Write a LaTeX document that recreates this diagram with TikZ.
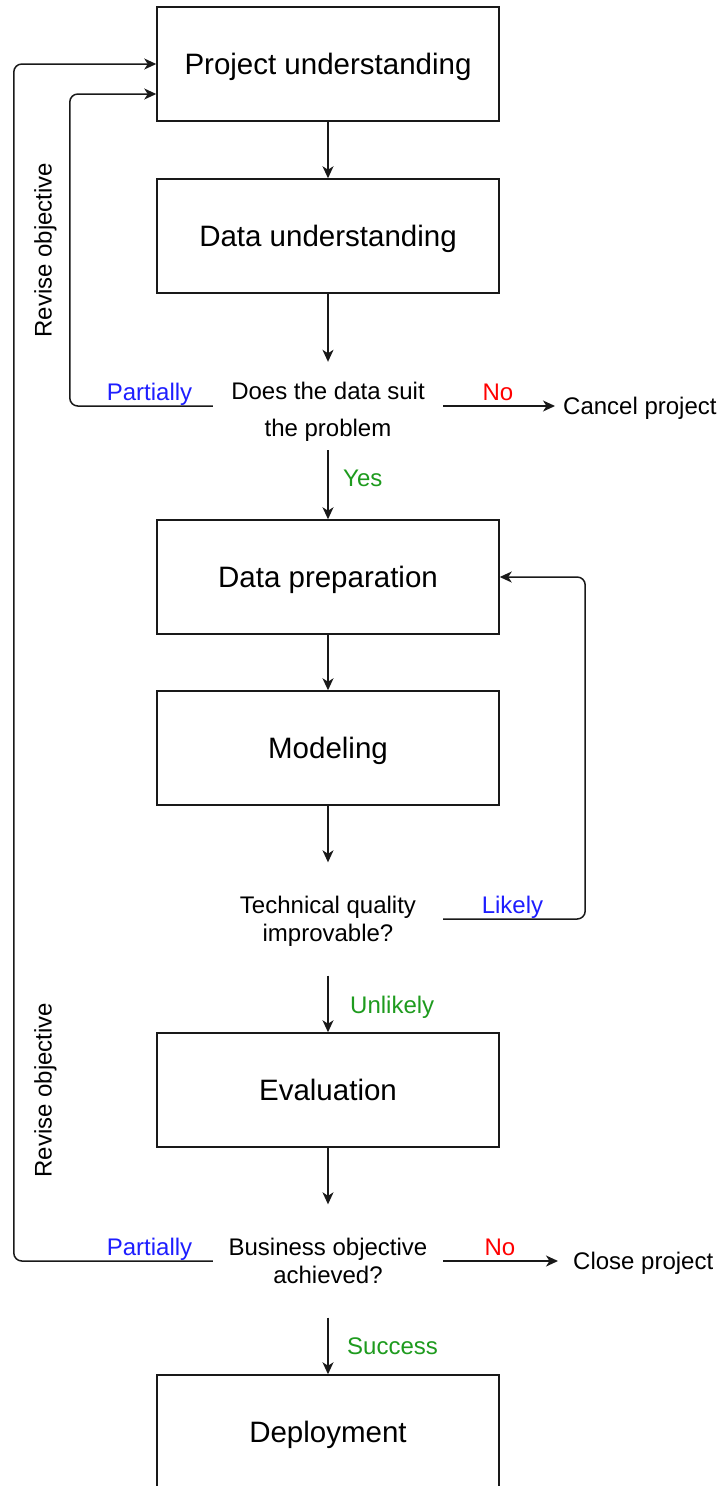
\documentclass[tikz,border=0pt]{standalone}
\usepackage{fontspec}
\setmainfont{Liberation Sans}
\usetikzlibrary{arrows.meta}
\definecolor{lblue}{RGB}{30,30,255}
\definecolor{lred}{RGB}{255,0,0}
\definecolor{lgreen}{RGB}{30,155,30}
\begin{document}
\begin{tikzpicture}[x=1pt,y=-1pt,
  box/.style={draw=black!90, line width=1.5pt, minimum width=342pt, minimum height=114pt, inner sep=0pt, text height=21pt, text depth=0pt, font=\fontsize{29.5}{34}\selectfont},
  dec/.style={minimum width=230pt, inner sep=0pt, align=center, text height=44pt, text depth=0pt, minimum height=113pt, font=\fontsize{24}{28}\selectfont},
  outtext/.style={inner ysep=0pt, text height=17pt, text depth=0pt, font=\fontsize{24}{28}\selectfont},
  lbl/.style={inner sep=0pt, font=\fontsize{24}{28}\selectfont},
  arr/.style={draw=black!90, line width=1.5pt, rounded corners=8pt, -{Stealth[length=12pt,width=11pt,inset=3.5pt]}},
]
\useasboundingbox (0,0) rectangle (723,1486);
\fill[white] (0,0) rectangle (723,1486);
\clip (0,0) rectangle (723,1486);

% boxes
\node[box] (b1) at (328,64) {Project understanding};
\node[box] (b2) at (328,236) {Data understanding};
\node[box] (b3) at (328,577) {Data preparation};
\node[box] (b4) at (328,748) {Modeling};
\node[box] (b5) at (328,1090) {Evaluation};
\node[box] (b6) at (328,1432) {Deployment};

% decisions
\node[dec, minimum height=88pt, text height=60pt, font=\fontsize{24}{37}\selectfont] (d1) at (328,406) {Does the data suit\\the problem};
\node[dec] (d2) at (328,919) {Technical quality\\improvable?};
\node[dec] (d3) at (328,1261) {Business objective\\achieved?};

% terminal texts
\node[outtext, anchor=west, inner xsep=8pt] (cancel) at (555,406) {Cancel project};
\node[outtext, anchor=west, inner xsep=15pt] (close) at (558,1261) {Close project};

% connectors
\draw[arr] (b1) -- (b2);
\draw[arr] (b2) -- (d1);
\draw[arr] (d1) -- (b3);
\draw[arr] (b3) -- (b4);
\draw[arr] (b4) -- (d2);
\draw[arr] (d2) -- (b5);
\draw[arr] (b5) -- (d3);
\draw[arr] (d3) -- (b6);
\draw[arr] (d1.east) -- (cancel.west);
\draw[arr] (d3.east) -- (close.west);
\draw[arr] (d1.west) -- ++(-143,0) |- ([yshift=-30pt]b1.west);
\draw[arr] (d3.west) -- ++(-199,0) |- (b1.west);
\draw[arr] (d2.east) -- ++(142,0) |- (b3.east);

% labels
\node[lbl, text=lblue, anchor=base] (lp1) at (149.5,400) {Partially};
\node[lbl, text=lred, anchor=base] (ln1) at (498,400) {No};
\node[lbl, text=lgreen, anchor=base west] (ly) at (343,486) {Yes};
\node[lbl, text=lblue, anchor=base] (ll) at (512.5,913) {Likely};
\node[lbl, text=lgreen, anchor=base west] (lu) at (350,1013) {Unlikely};
\node[lbl, text=lblue, anchor=base] (lp2) at (149.5,1255) {Partially};
\node[lbl, text=lred, anchor=base] (ln2) at (500,1255) {No};
\node[lbl, text=lgreen, anchor=base west] (ls) at (347,1354) {Success};
\node[lbl, rotate=90, anchor=base] (rev1) at (51.5,250) {Revise objective};
\node[lbl, rotate=90, anchor=base] (rev2) at (51.5,1090) {Revise objective};
\end{tikzpicture}
\end{document}
